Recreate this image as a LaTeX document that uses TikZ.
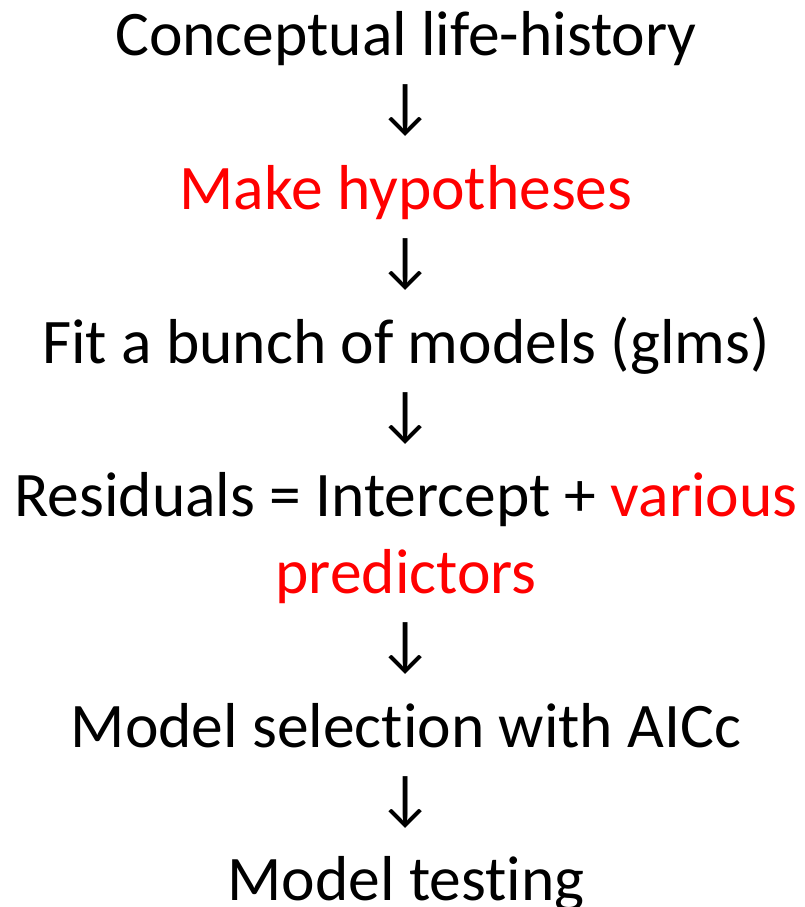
\documentclass[tikz,border=0pt]{standalone}
\usepackage{fontspec}
\setmainfont{Carlito}[Ligatures=NoCommon]
\definecolor{hilite}{RGB}{255,0,0}
\tikzset{
  stage/.style={anchor=base, inner sep=0pt, font=\fontsize{63.5}{77}\selectfont},
  flowarrow/.style={anchor=center, inner sep=0pt, font=\fontsize{62}{72}\selectfont}
}
\begin{document}
\begin{tikzpicture}[x=1pt,y=-1pt]
  \useasboundingbox (0,0) rectangle (804,907);
  % steps of the workflow, one baseline every 76.8pt
  \node[stage] (concept) at (406,56) {Conceptual life-history};
  \node[flowarrow] (a1) at (406,111) {↓};
  \node[stage, text=hilite] (hyp) at (406,209.6) {Make hypotheses};
  \node[flowarrow] (a2) at (406,264.6) {↓};
  \node[stage] (fit) at (406,363.2) {Fit a bunch of models (glms)};
  \node[flowarrow] (a3) at (406,418.2) {↓};
  \node[stage] (resid) at (406,516.8) {Residuals = Intercept + \textcolor{hilite}{various}};
  \node[stage, text=hilite] (pred) at (406,593.6) {predictors};
  \node[flowarrow] (a4) at (406,648.6) {↓};
  \node[stage] (select) at (406,747.2) {Model selection with AICc};
  \node[flowarrow] (a5) at (406,802.2) {↓};
  \node[stage] (test) at (406,900.8) {Model testing};
\end{tikzpicture}
\end{document}
